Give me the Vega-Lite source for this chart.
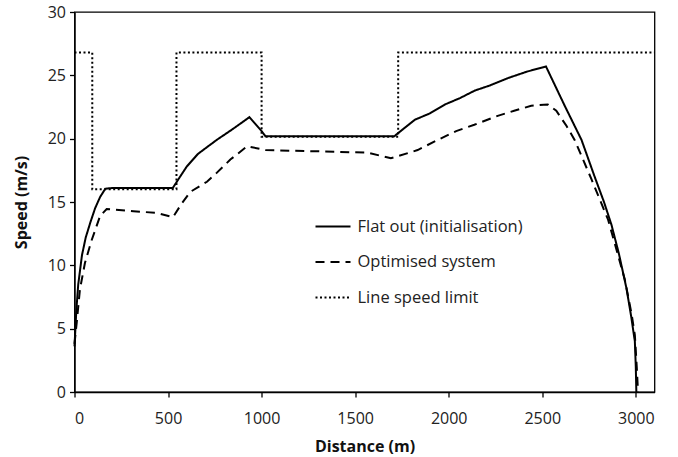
{
  "$schema": "https://vega.github.io/schema/vega-lite/v6.json",
  "width": 580,
  "height": 380,
  "autosize": {"type": "none"},
  "padding": {"left": 74.5, "top": 12, "right": 23.5, "bottom": 65},
  "config": {
    "font": "Open Sans",
    "view": {"stroke": "black", "strokeWidth": 1.3},
    "axis": {
      "grid": false,
      "domainColor": "black",
      "domainWidth": 1.3,
      "tickColor": "black",
      "tickWidth": 1.3,
      "tickSize": 5,
      "labelFont": "Open Sans",
      "labelFontSize": 16,
      "labelColor": "#222",
      "titleFont": "Open Sans",
      "titleFontSize": 16,
      "titleFontWeight": "bold",
      "titleColor": "#111"
    },
    "legend": {
      "labelFont": "Open Sans",
      "labelFontSize": 16.5,
      "labelColor": "#222",
      "labelLimit": 400
    }
  },
  "data": {
    "values": [
      {"series": "Flat out (initialisation)", "d": 0, "v": 3.6},
      {"series": "Flat out (initialisation)", "d": 10, "v": 6.5},
      {"series": "Flat out (initialisation)", "d": 20, "v": 8.5},
      {"series": "Flat out (initialisation)", "d": 40, "v": 10.8},
      {"series": "Flat out (initialisation)", "d": 60, "v": 12.2},
      {"series": "Flat out (initialisation)", "d": 85, "v": 13.4},
      {"series": "Flat out (initialisation)", "d": 110, "v": 14.5},
      {"series": "Flat out (initialisation)", "d": 137, "v": 15.4},
      {"series": "Flat out (initialisation)", "d": 165, "v": 16.05},
      {"series": "Flat out (initialisation)", "d": 200, "v": 16.1},
      {"series": "Flat out (initialisation)", "d": 525, "v": 16.1},
      {"series": "Flat out (initialisation)", "d": 560, "v": 16.9},
      {"series": "Flat out (initialisation)", "d": 600, "v": 17.8},
      {"series": "Flat out (initialisation)", "d": 660, "v": 18.8},
      {"series": "Flat out (initialisation)", "d": 760, "v": 19.9},
      {"series": "Flat out (initialisation)", "d": 850, "v": 20.8},
      {"series": "Flat out (initialisation)", "d": 935, "v": 21.7},
      {"series": "Flat out (initialisation)", "d": 1000, "v": 20.6},
      {"series": "Flat out (initialisation)", "d": 1020, "v": 20.2},
      {"series": "Flat out (initialisation)", "d": 1710, "v": 20.2},
      {"series": "Flat out (initialisation)", "d": 1760, "v": 20.8},
      {"series": "Flat out (initialisation)", "d": 1820, "v": 21.5},
      {"series": "Flat out (initialisation)", "d": 1900, "v": 22.0},
      {"series": "Flat out (initialisation)", "d": 1980, "v": 22.7},
      {"series": "Flat out (initialisation)", "d": 2060, "v": 23.2},
      {"series": "Flat out (initialisation)", "d": 2140, "v": 23.8},
      {"series": "Flat out (initialisation)", "d": 2220, "v": 24.2},
      {"series": "Flat out (initialisation)", "d": 2320, "v": 24.8},
      {"series": "Flat out (initialisation)", "d": 2420, "v": 25.3},
      {"series": "Flat out (initialisation)", "d": 2520, "v": 25.7},
      {"series": "Flat out (initialisation)", "d": 2620, "v": 22.6},
      {"series": "Flat out (initialisation)", "d": 2710, "v": 19.9},
      {"series": "Flat out (initialisation)", "d": 2780, "v": 17.0},
      {"series": "Flat out (initialisation)", "d": 2830, "v": 15.0},
      {"series": "Flat out (initialisation)", "d": 2870, "v": 13.2},
      {"series": "Flat out (initialisation)", "d": 2910, "v": 10.9},
      {"series": "Flat out (initialisation)", "d": 2950, "v": 8.2},
      {"series": "Flat out (initialisation)", "d": 2975, "v": 6.0},
      {"series": "Flat out (initialisation)", "d": 2995, "v": 4.0},
      {"series": "Flat out (initialisation)", "d": 3000, "v": 2.0},
      {"series": "Flat out (initialisation)", "d": 3003, "v": 0},
      {"series": "Optimised system", "d": 0, "v": 3.8},
      {"series": "Optimised system", "d": 12, "v": 5.5},
      {"series": "Optimised system", "d": 29, "v": 8.1},
      {"series": "Optimised system", "d": 56, "v": 10.2},
      {"series": "Optimised system", "d": 92, "v": 12.0},
      {"series": "Optimised system", "d": 137, "v": 13.9},
      {"series": "Optimised system", "d": 172, "v": 14.45},
      {"series": "Optimised system", "d": 315, "v": 14.27},
      {"series": "Optimised system", "d": 440, "v": 14.14},
      {"series": "Optimised system", "d": 526, "v": 13.8},
      {"series": "Optimised system", "d": 574, "v": 14.9},
      {"series": "Optimised system", "d": 619, "v": 15.8},
      {"series": "Optimised system", "d": 708, "v": 16.6},
      {"series": "Optimised system", "d": 760, "v": 17.3},
      {"series": "Optimised system", "d": 833, "v": 18.35},
      {"series": "Optimised system", "d": 923, "v": 19.4},
      {"series": "Optimised system", "d": 1021, "v": 19.1},
      {"series": "Optimised system", "d": 1300, "v": 19.0},
      {"series": "Optimised system", "d": 1566, "v": 18.9},
      {"series": "Optimised system", "d": 1691, "v": 18.45},
      {"series": "Optimised system", "d": 1834, "v": 19.1},
      {"series": "Optimised system", "d": 1941, "v": 19.9},
      {"series": "Optimised system", "d": 2040, "v": 20.6},
      {"series": "Optimised system", "d": 2137, "v": 21.1},
      {"series": "Optimised system", "d": 2262, "v": 21.8},
      {"series": "Optimised system", "d": 2350, "v": 22.2},
      {"series": "Optimised system", "d": 2441, "v": 22.6},
      {"series": "Optimised system", "d": 2530, "v": 22.7},
      {"series": "Optimised system", "d": 2575, "v": 22.2},
      {"series": "Optimised system", "d": 2630, "v": 21.0},
      {"series": "Optimised system", "d": 2673, "v": 19.9},
      {"series": "Optimised system", "d": 2763, "v": 16.8},
      {"series": "Optimised system", "d": 2852, "v": 13.6},
      {"series": "Optimised system", "d": 2941, "v": 8.9},
      {"series": "Optimised system", "d": 2977, "v": 6.2},
      {"series": "Optimised system", "d": 2995, "v": 4.5},
      {"series": "Optimised system", "d": 3005, "v": 2.0},
      {"series": "Optimised system", "d": 3012, "v": 0},
      {"series": "Line speed limit", "d": 0, "v": 26.8},
      {"series": "Line speed limit", "d": 95, "v": 16.0},
      {"series": "Line speed limit", "d": 545, "v": 26.8},
      {"series": "Line speed limit", "d": 1000, "v": 20.15},
      {"series": "Line speed limit", "d": 1730, "v": 26.8},
      {"series": "Line speed limit", "d": 3100, "v": 26.8}
    ]
  },
  "encoding": {
    "x": {
      "field": "d",
      "type": "quantitative",
      "scale": {"domain": [0, 3100], "nice": false},
      "axis": {"values": [0, 500, 1000, 1500, 2000, 2500, 3000], "format": "d", "title": "Distance (m)", "labelPadding": 13, "titlePadding": 12}
    },
    "y": {
      "field": "v",
      "type": "quantitative",
      "scale": {"domain": [0, 30], "nice": false},
      "axis": {"values": [0, 5, 10, 15, 20, 25, 30], "title": "Speed (m/s)", "labelPadding": 4, "titlePadding": 18}
    },
    "strokeDash": {
      "field": "series",
      "type": "nominal",
      "scale": {
        "domain": ["Flat out (initialisation)", "Optimised system", "Line speed limit"],
        "range": [[1, 0], [9, 6], [2, 2.5]]
      },
      "legend": {
        "title": null,
        "orient": "none",
        "legendX": 240,
        "legendY": 196,
        "padding": 0,
        "symbolType": "stroke",
        "symbolSize": 1225,
        "symbolStrokeColor": "black",
        "symbolStrokeWidth": 2,
        "labelOffset": 6,
        "rowPadding": 8.5
      }
    }
  },
  "layer": [
    {
      "transform": [{"filter": "datum.series !== 'Line speed limit'"}],
      "mark": {"type": "line", "color": "black", "strokeWidth": 2}
    },
    {
      "transform": [{"filter": "datum.series === 'Line speed limit'"}],
      "mark": {"type": "line", "color": "black", "strokeWidth": 2, "interpolate": "step-after"}
    }
  ]
}
